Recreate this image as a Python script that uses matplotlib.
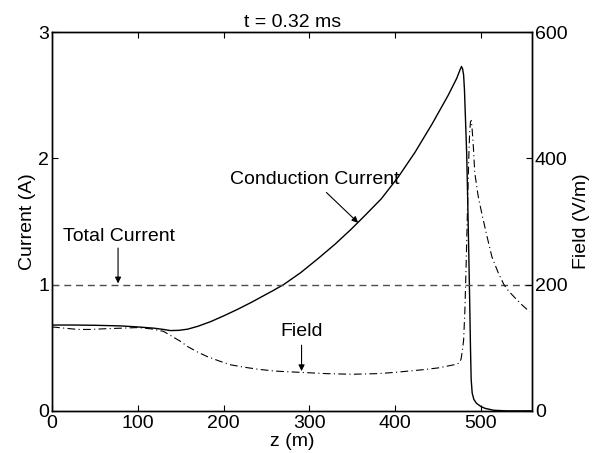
#!/usr/bin/env python3
"""Current and field profiles along z at t = 0.32 ms."""
import matplotlib
matplotlib.use("Agg")
import matplotlib.pyplot as plt

plt.rcParams["font.family"] = ["Liberation Sans", "DejaVu Sans"]
plt.rcParams["font.size"] = 14

# conduction current (A) vs z (m)
z_cond = [0, 25, 50, 80, 100, 119, 130, 138, 148, 158, 170, 185, 200, 216, 232,
          244, 257, 270, 290, 310, 330, 349, 366, 384, 404, 423, 443, 462, 472,
          474, 476, 477.5, 478.8, 480, 481, 481.6, 482.6, 483.6, 484.8, 486,
          487, 488, 488.8, 490, 492, 495, 500, 505, 515, 530, 560]
i_cond = [0.68, 0.68, 0.678, 0.673, 0.665, 0.655, 0.645, 0.636, 0.638, 0.647,
          0.67, 0.707, 0.752, 0.803, 0.858, 0.902, 0.95, 1.00, 1.095, 1.205,
          1.32, 1.44, 1.555, 1.68, 1.855, 2.045, 2.27, 2.50, 2.635, 2.67,
          2.705, 2.728, 2.71, 2.66, 2.54, 2.42, 2.23, 2.03, 1.66, 1.25, 0.9,
          0.5, 0.25, 0.14, 0.09, 0.06, 0.035, 0.02, 0.005, 0.0, 0.0]

# field (V/m) vs z (m)
z_field = [0, 15, 30, 45, 60, 80, 100, 115, 130, 140, 150, 158, 170, 181, 195,
           208, 225, 240, 260, 290, 320, 350, 380, 400, 431, 450, 465, 472, 475,
           477, 478.5, 480, 481.5, 483, 484.5, 486, 487, 488, 489, 490, 491.5,
           493, 497, 501, 507, 513, 520, 527, 533, 540, 548, 557]
e_field = [133, 131, 129, 129, 130, 131, 132, 130, 126, 118, 110, 102, 93, 86, 79,
           73, 69, 66, 63, 61, 59, 58, 59, 61, 65, 68, 72, 74, 76, 82, 95, 112,
           160, 235, 320, 400, 440, 458, 460, 445, 415, 377, 340, 314, 278, 244,
           220, 200, 189, 179, 168, 157]

# total current (A)
z_tot = [0, 560]
i_tot = [1.0, 1.0]

fig = plt.figure(figsize=(5.98, 4.53), dpi=100)
ax = fig.add_axes([0.087, 0.093, 0.803, 0.836])
ax2 = ax.twinx()

ax.plot(z_cond, i_cond, "-", color="k", lw=1.0)
ax.plot(z_tot, i_tot, color="#4d4d4d", lw=1.0, ls=(0, (5, 3.5)))
ax2.plot(z_field, e_field, color="k", lw=0.8, ls=(0, (7, 3, 1, 3)))

ax.set_xlim(0, 560)
ax.set_ylim(0, 3)
ax2.set_ylim(0, 600)
ax.set_xticks([0, 100, 200, 300, 400, 500])
ax.set_yticks([0, 1, 2, 3])
ax2.set_yticks([0, 200, 400, 600])
ax.tick_params(direction="in", length=4, top=True, right=False, width=0.8, pad=2)
ax.tick_params(axis="x", pad=3)
ax2.tick_params(direction="in", length=4, width=0.8, pad=2)
for a in (ax, ax2):
    for s in a.spines.values():
        s.set_linewidth(1.0)

ax.set_xlabel("z (m)", labelpad=1)
ax.set_ylabel("Current (A)", labelpad=2)
ax2.set_ylabel("Field (V/m)", labelpad=4)
ax.set_title("t = 0.32 ms", fontsize=14, pad=4)

arr = dict(arrowstyle="-|>", color="k", lw=0.8, mutation_scale=9, shrinkA=0, shrinkB=0)
ax.text(78.5, 1.385, "Total Current", ha="center", va="center")
ax.annotate("", xy=(77, 1.01), xytext=(77, 1.29), arrowprops=arr)
ax.text(306, 1.83, "Conduction Current", ha="center", va="center")
ax.annotate("", xy=(357, 1.49), xytext=(320, 1.73), arrowprops=arr)
ax.text(291, 0.63, "Field", ha="center", va="center")
ax.annotate("", xy=(291, 0.315), xytext=(291, 0.52), arrowprops=arr)

fig.savefig("out.png", dpi=100)
print("wrote out.png")
